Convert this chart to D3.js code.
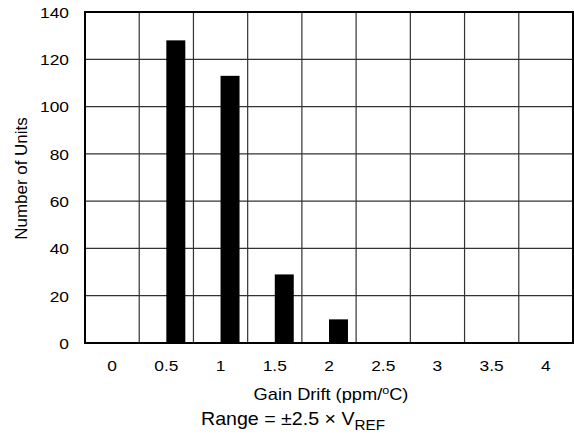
<!DOCTYPE html>
<html>
<head>
<meta charset="utf-8">
<script src="https://cdn.jsdelivr.net/npm/d3@7"></script>
<style>
  body { margin: 0; background: #fff; }
  text { font-family: 'Liberation Sans', Arial, sans-serif; fill: #000; }
</style>
</head>
<body>
<div id="chart"></div>
<script>
const categories = ['0', '0.5', '1', '1.5', '2', '2.5', '3', '3.5', '4']
const units = [0, 128, 113, 29, 10, 0, 0, 0, 0]
const yTicks = [0, 20, 40, 60, 80, 100, 120, 140]

const margin = { top: 12, left: 85, right: 1, bottom: 96 }
const width = 574 - margin.left - margin.right
const height = 439 - margin.top - margin.bottom

const svg = d3
  .select('#chart')
  .append('svg')
  .attr('width', 574)
  .attr('height', 439)
  .append('g')
  .attr('transform', 'translate(' + margin.left + ',' + margin.top + ')')

const x = d3.scaleBand().domain(categories).range([0, width]).padding(0)
const y = d3.scaleLinear().domain([0, 140]).range([height, 0])

// the original type is a bit wider than Liberation Sans, so stretch it
function label(parent, px, py, size, sx, anchor) {
  return parent
    .append('text')
    .attr('transform', `translate(${px},${py}) scale(${sx},1)`)
    .attr('text-anchor', anchor)
    .attr('font-size', size)
}

// horizontal grid
svg
  .selectAll('.hgrid')
  .data(yTicks)
  .enter()
  .append('line')
  .attr('class', 'hgrid')
  .attr('x1', 0)
  .attr('x2', width)
  .attr('y1', d => y(d))
  .attr('y2', d => y(d))
  .attr('stroke', '#333')
  .attr('stroke-width', 1.2)

// vertical grid at category boundaries
svg
  .selectAll('.vgrid')
  .data(categories.slice(1))
  .enter()
  .append('line')
  .attr('class', 'vgrid')
  .attr('x1', d => x(d))
  .attr('x2', d => x(d))
  .attr('y1', 0)
  .attr('y2', height)
  .attr('stroke', '#333')
  .attr('stroke-width', 1.2)

const barW = x.bandwidth() * 0.35

svg
  .selectAll('.bar')
  .data(units)
  .enter()
  .append('rect')
  .attr('class', 'bar')
  .attr('x', (d, i) => x(categories[i]) + x.bandwidth() / 2)
  .attr('y', d => y(d))
  .attr('width', barW)
  .attr('height', d => height - y(d))
  .attr('fill', '#000')

// frame
svg
  .append('rect')
  .attr('x', 0)
  .attr('y', 0)
  .attr('width', width)
  .attr('height', height)
  .attr('fill', 'none')
  .attr('stroke', '#000')
  .attr('stroke-width', 2)

// y tick labels
yTicks.forEach(d => {
  label(svg, -16, y(d), 15.5, 1.12, 'end')
    .attr('dy', '0.38em')
    .text(d)
})

// x tick labels
categories.forEach(d => {
  label(svg, x(d) + x.bandwidth() / 2, height + 28, 15.5, 1.12, 'middle').text(d)
})

// x axis title
const xt = label(svg, width / 2 + 2, height + 57, 16, 1.14, 'middle')
xt.append('tspan').text('Gain Drift (ppm/')
xt.append('tspan').attr('font-size', 11).attr('dy', -6).text('o')
xt.append('tspan').attr('dy', 6).text('C)')

// range subtitle
const rt = label(svg, 293 - margin.left, height + 82, 18, 1.09, 'middle')
rt.append('tspan').text('Range = ±2.5 × V')
rt.append('tspan').attr('font-size', 14).attr('dy', 5).text('REF')

// y axis title
svg
  .append('text')
  .attr('transform', 'translate(' + (-58) + ',' + (height / 2 + 1) + ') rotate(-90) scale(1.06,1)')
  .attr('text-anchor', 'middle')
  .attr('font-size', 16)
  .text('Number of Units')
</script>
</body>
</html>
